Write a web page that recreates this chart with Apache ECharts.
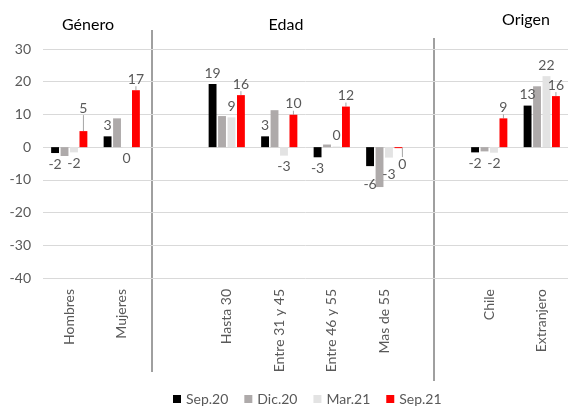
<!DOCTYPE html>
<html>
<head>
<meta charset="utf-8">
<script src="https://cdn.jsdelivr.net/npm/echarts@6/dist/echarts.min.js"></script>
<style>
  html, body { margin: 0; padding: 0; background: #fff; }
  #chart { width: 568px; height: 408px; }
</style>
</head>
<body>
<div id="chart"></div>
<script>
// categorias (las vacias separan los grupos)
var categories = ['Hombres', 'Mujeres', '', 'Hasta 30', 'Entre 31 y 45', 'Entre 46 y 55', 'Mas de 55', '', 'Chile', 'Extranjero'];

var sep20 = [-1.8, 3.3, '-', 19.3, 3.3, -3.1, -5.8, '-', -1.6, 12.7];
var dic20 = [-2.7, 8.8, '-', 9.5, 11.3, 0.8, -12.2, '-', -1.3, 18.6];
var mar21 = [-1.6, -0.2, '-', 9.1, -2.6, 0.2, -3.2, '-', -1.7, 21.7];
var sep21 = [4.9, 17.4, '-', 15.9, 9.9, 12.4, -0.3, '-', 8.8, 15.6];

var yTicks = { min: -40, max: 30, step: 10 };

var grey = '#595959';
var font = 'Lato, "Open Sans", sans-serif';

// etiqueta arriba si es positivo, abajo si es negativo
function toItems(arr, showLabel) {
    return arr.map(function (v) {
        if (v === '-') return '-';
        return {
            value: v,
            label: { show: showLabel, position: v < 0 ? 'bottom' : 'top' }
        };
    });
}

function makeSeries(name, arr, color, showLabel) {
    return {
        name: name,
        type: 'bar',
        data: toItems(arr, showLabel),
        itemStyle: { color: color },
        barGap: '20%',
        barCategoryGap: '31%',
        label: {
            show: showLabel,
            color: grey,
            fontSize: 14,
            fontFamily: font,
            distance: 4,
            formatter: function (p) {
                return Math.round(p.value).toFixed(0);
            }
        }
    };
}

var series = [
    makeSeries('Sep.20', sep20, '#000000', true),
    makeSeries('Dic.20', dic20, '#AEAAAA', false),
    makeSeries('Mar.21', mar21, '#E3E3E3', true),
    makeSeries('Sep.21', sep21, '#FF0000', true)
];
// ajustes de etiquetas que Excel movio (Hombres "5" con linea guia, Mas de 55)
series[3].labelLine = { show: true, lineStyle: { color: '#a6a6a6', width: 1 } };
series[3].labelLayout = function (p) {
    if (p.dataIndex === 0) return { dy: -12 };
    if (p.dataIndex === 6) return { dx: 4, dy: 5 };
};
series[2].labelLayout = function (p) {
    if (p.dataIndex === 6) return { dy: 6 };
};
series[0].labelLayout = function (p) {
    if (p.dataIndex === 6) return { dy: 7 };
};

var chart = echarts.init(document.getElementById('chart'));

chart.setOption({
    animation: false,
    backgroundColor: '#fff',
    textStyle: { fontFamily: font },
    grid: { left: 43, right: 0, top: 49, bottom: 130 },
    legend: {
        left: 168,
        top: 387,
        icon: 'rect',
        itemWidth: 8,
        itemHeight: 8,
        itemGap: 16,
        textStyle: { color: grey, fontSize: 14, fontFamily: font },
        data: ['Sep.20', 'Dic.20', 'Mar.21', 'Sep.21']
    },
    xAxis: {
        type: 'category',
        data: categories,
        axisLine: { show: false },
        axisTick: { show: false },
        axisLabel: {
            rotate: 90,
            interval: 0,
            margin: 11,
            color: grey,
            fontSize: 14,
            fontFamily: font
        }
    },
    yAxis: {
        type: 'value',
        min: yTicks.min,
        max: yTicks.max,
        interval: yTicks.step,
        axisLine: { show: false },
        axisTick: { show: false },
        axisLabel: { color: grey, fontSize: 14, margin: 12, fontFamily: font },
        splitLine: { lineStyle: { color: '#d9d9d9', width: 1 } }
    },
    series: series,
    graphic: [
        { type: 'line', shape: { x1: 152, y1: 30, x2: 152, y2: 372 }, style: { stroke: '#404040', lineWidth: 1 } },
        { type: 'line', shape: { x1: 434, y1: 38, x2: 434, y2: 381 }, style: { stroke: '#404040', lineWidth: 1 } },
        { type: 'text', x: 88, y: 25, style: { text: 'Género', fill: '#000', fontSize: 16, fontFamily: font, textAlign: 'center', textVerticalAlign: 'middle' } },
        { type: 'text', x: 286, y: 25, style: { text: 'Edad', fill: '#000', fontSize: 16, fontFamily: font, textAlign: 'center', textVerticalAlign: 'middle' } },
        { type: 'text', x: 526, y: 20, style: { text: 'Origen', fill: '#000', fontSize: 16, fontFamily: font, textAlign: 'center', textVerticalAlign: 'middle' } }
    ]
});
</script>
</body>
</html>
